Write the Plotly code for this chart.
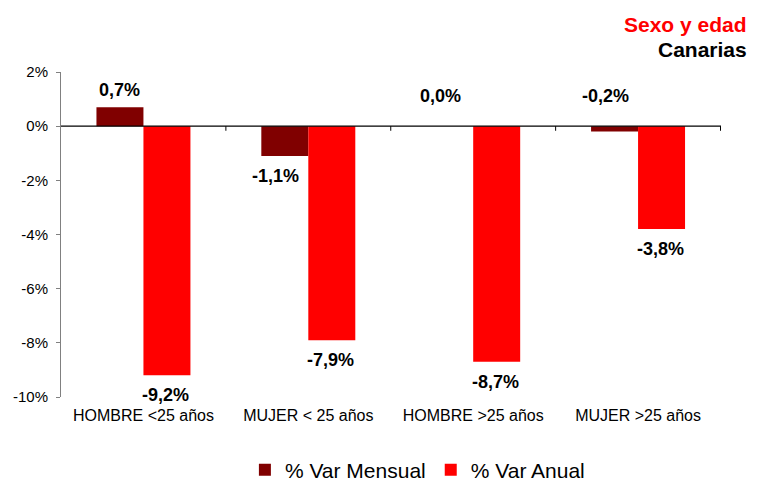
import plotly.graph_objects as go

categorias = ["HOMBRE <25 años", "MUJER < 25 años", "HOMBRE >25 años", "MUJER >25 años"]
var_mensual = [0.7, -1.1, 0.0, -0.2]
var_anual = [-9.2, -7.9, -8.7, -3.8]
etiquetas_mensual = ["0,7%", "-1,1%", "0,0%", "-0,2%"]
etiquetas_anual = ["-9,2%", "-7,9%", "-8,7%", "-3,8%"]
y_ticks = [2, 0, -2, -4, -6, -8, -10]
y_ticktext = ["2%", "0%", "-2%", "-4%", "-6%", "-8%", "-10%"]

FONT = "Liberation Sans, Arial, sans-serif"

fig = go.Figure()
fig.add_trace(go.Bar(x=categorias, y=var_mensual, name="% Var Mensual",
                     marker=dict(color="#800000", line=dict(width=0))))
fig.add_trace(go.Bar(x=categorias, y=var_anual, name="% Var Anual",
                     marker=dict(color="#FF0000", line=dict(width=0))))

annots = []
def add_labels(vals, labels, xshift, neg_extra):
    for c, v, t in zip(categorias, vals, labels):
        extra = neg_extra if v <= 0 else 0
        if v > -0.5:
            y = max(v, 0)
            ys = 5 if abs(v) >= 0.5 else 18
            annots.append(dict(x=c, y=y, text="<b>%s</b>" % t, showarrow=False, xref="x", yref="y",
                               yanchor="bottom", xshift=xshift + extra, yshift=ys,
                               font=dict(family=FONT, size=18, color="black")))
        else:
            annots.append(dict(x=c, y=v, text="<b>%s</b>" % t, showarrow=False, xref="x", yref="y",
                               yanchor="top", xshift=xshift + extra, yshift=-8,
                               font=dict(family=FONT, size=18, color="black")))

add_labels(var_mensual, etiquetas_mensual, -23.5, -9)
add_labels(var_anual, etiquetas_anual, 23.5, -1)

annots.append(dict(x=1.042, y=1.145, xref="paper", yref="paper", xanchor="right", yanchor="middle",
                   text="<b>Sexo y edad</b>", showarrow=False,
                   font=dict(family=FONT, size=21, color="#FF0000")))
annots.append(dict(x=1.042, y=1.068, xref="paper", yref="paper", xanchor="right", yanchor="middle",
                   text="<b>Canarias</b>", showarrow=False,
                   font=dict(family=FONT, size=21, color="black")))

shapes = []
for i in range(len(categorias)):
    shapes.append(dict(type="line", xref="x", yref="y", x0=i + 0.5, x1=i + 0.5, y0=0, y1=-0.17,
                       line=dict(color="black", width=1)))
shapes.append(dict(type="line", xref="paper", yref="y", x0=0, x1=1, y0=0, y1=0,
                   line=dict(color="black", width=1.3)))

fig.update_layout(
    width=772, height=483,
    margin=dict(l=53, r=59, t=64, b=94, autoexpand=False),
    paper_bgcolor="white", plot_bgcolor="white",
    barmode="group", bargap=0.43, bargroupgap=0,
    font=dict(family=FONT, color="black"),
    showlegend=True,
    legend=dict(orientation="h", x=0.54, y=-0.225, xanchor="center", yanchor="middle",
                font=dict(family=FONT, size=21, color="black"), itemwidth=30),
    annotations=annots,
    shapes=shapes,
    xaxis=dict(showline=False, showgrid=False, zeroline=False, ticks="", automargin=False,
               tickfont=dict(family=FONT, size=16, color="black"), ticklabelstandoff=7),
    yaxis=dict(range=[-10, 2], tickvals=y_ticks, ticktext=y_ticktext, showgrid=False, zeroline=False,
               automargin=False,
               showline=True, linecolor="#808080", linewidth=1, ticks="outside", ticklen=4,
               ticklabelstandoff=5,
               tickcolor="#808080", tickfont=dict(family=FONT, size=15, color="black")),
)

fig.write_html("out.html")
